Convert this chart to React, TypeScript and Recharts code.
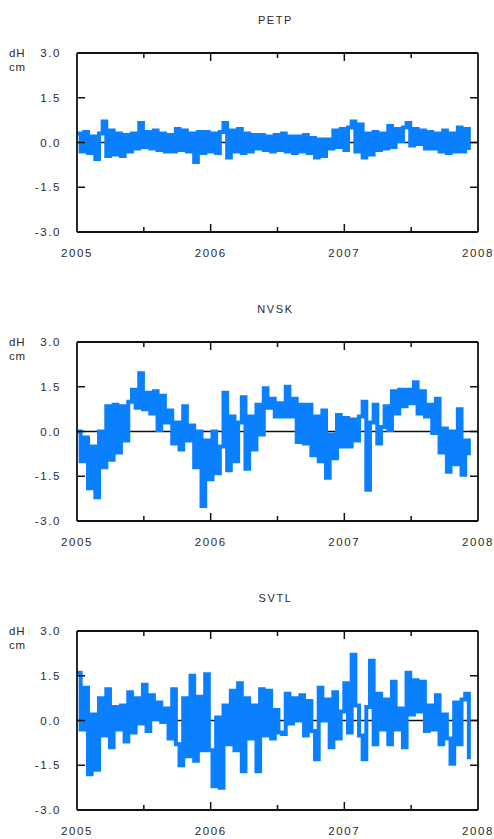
import React from 'react';
import { LineChart, Line, XAxis, YAxis, ReferenceLine } from 'recharts';

const START_YEAR = 2005;
const STEP_DAYS = 10;
const X_TICKS = [2005, 2005.5, 2006, 2006.5, 2007, 2007.5, 2008];
const Y_TICKS = [-3, -1.5, 0, 1.5, 3];
const Y_UNIT = ['dH', 'cm'];

const PETP = [
  0.3, -0.3, 0.35, -0.35, 0.2, -0.55, 0.3, 0.7, -0.45, 0.4,
  -0.4, 0.3, -0.45, 0.25, -0.3, 0.3, -0.2, 0.65, -0.15, 0.35,
  -0.2, 0.4, -0.25, 0.3, -0.3, 0.25, -0.3, 0.45, -0.25, 0.4,
  -0.3, 0.3, -0.65, 0.35, -0.35, 0.35, -0.3, 0.3, -0.35, 0.35,
  0.65, -0.5, 0.4, -0.3, 0.45, -0.35, 0.3, -0.3, 0.25, -0.2,
  0.25, -0.25, 0.2, -0.3, 0.25, -0.25, 0.3, -0.3, 0.2, -0.35,
  0.2, -0.3, 0.25, -0.35, 0.15, -0.5, 0.1, -0.45, 0.1, -0.2,
  0.4, -0.15, 0.45, -0.25, 0.5, 0.7, -0.3, 0.6, -0.5, 0.3,
  -0.4, 0.35, -0.25, 0.3, -0.2, 0.55, -0.15, 0.45, 0.05, 0.5,
  0.65, -0.1, 0.45, -0.05, 0.4, -0.2, 0.35, -0.2, 0.3, -0.3,
  0.4, -0.35, 0.3, -0.3, 0.5, -0.3, 0.45, -0.25,
];

const NVSK = [
  0.0, -1.0, -0.2, -1.9, -0.5, -2.2, 0.0, -1.2, 0.85, -0.95,
  0.9, -0.7, 0.85, -0.3, 1.0, 1.4, 0.8, 1.95, 0.75, 1.3,
  0.6, 1.35, 0.05, 1.2, 0.3, 0.7, -0.4, 0.3, -0.6, 0.85,
  -0.3, 0.2, -1.2, 0.0, -2.5, -0.3, -1.6, 0.0, -1.4, -0.5,
  1.3, -1.3, 0.5, -1.0, 0.3, 1.15, -1.25, 0.5, -0.6, 0.9,
  -0.1, 1.45, 0.8, 1.1, 0.5, 0.95, 0.5, 1.5, 0.5, 1.1,
  -0.35, 0.9, -0.4, 0.9, -0.8, 0.5, -1.0, 0.7, -1.55, -0.1,
  -0.9, 0.55, -0.5, 0.45, -0.5, 0.4, -0.3, 0.5, 1.0, -1.95,
  0.3, 0.9, -0.4, 0.15, 0.85, 0.05, 1.35, 0.6, 1.4, 0.85,
  1.4, 0.95, 1.65, 0.6, 1.35, 0.5, 0.9, -0.05, 1.1, -0.7,
  0.1, -1.35, 0.0, -1.1, 0.75, -1.45, -0.3, -0.8,
];

const SVTL = [
  1.6, -0.3, 1.1, -1.8, 0.2, -1.65, 0.75, -0.5, 1.05, -0.9,
  0.45, -0.3, 0.5, -0.7, 0.95, -0.4, 0.75, -0.1, 1.2, -0.35,
  0.85, 0.05, 0.6, -0.05, 0.4, -0.6, 1.05, -0.8, -1.5, 0.75,
  -1.2, 1.5, -1.35, 0.8, -1.0, 1.55, -1.0, -2.2, 0.1, -2.25,
  0.5, -0.8, 1.0, -1.0, 1.25, -1.7, 0.75, -0.6, 0.5, -1.7,
  1.05, -0.5, 1.0, -0.6, 0.35, -0.4, -0.45, 0.9, -0.1, 0.75,
  0.0, 0.85, -0.5, 0.65, -0.35, -1.3, 1.1, 0.0, 0.7, -0.9,
  0.95, -0.6, 0.3, 1.25, -0.4, 2.2, 0.5, -0.5, -1.3, 0.45,
  2.0, -0.8, 0.9, -0.3, 0.7, -0.8, 1.3, -0.3, 0.4, -0.9,
  1.6, 0.2, 1.35, 0.3, 1.3, -0.35, 0.5, -0.3, 0.85, -0.8,
  0.2, -0.6, -1.45, 0.6, -0.8, 0.7, 0.9, -1.3,
];

const STATIONS = [
  { name: 'PETP', values: PETP },
  { name: 'NVSK', values: NVSK },
  { name: 'SVTL', values: SVTL },
];

const FONT = '"Liberation Sans", Arial, Helvetica, sans-serif';
const TEXT = '#2a2a2a';
const AXIS = '#111';
const BLUE = '#0a80ff';

const W = 494;
const H = 280;
const PANEL_STEP = 289;
const PLOT_LEFT = 77;
const PLOT_RIGHT = 478;
const PLOT_TOP = 53;
const PLOT_BOTTOM = 232;
const LEFT_MARGIN = 16;
const BOTTOM_MARGIN = 21;

const textStyle = { fontFamily: FONT, fontSize: 11.5, letterSpacing: 1.6, fill: TEXT } as const;

const LeftTick = (props: any) => {
  const { x, y, payload } = props;
  const v = payload.value as number;
  const ax = x + LEFT_MARGIN;
  const edge = Math.abs(v) === 3;
  return (
    <g>
      {!edge && <line x1={ax} x2={ax + 8} y1={y} y2={y} stroke={AXIS} strokeWidth={1.5} />}
      <text x={x} y={y} textAnchor="end" dominantBaseline="central" style={textStyle}>
        {v.toFixed(1)}
      </text>
    </g>
  );
};

const RightTick = (props: any) => {
  const { x, y, payload } = props;
  const v = payload.value as number;
  if (Math.abs(v) === 3) return <g />;
  return <line x1={x} x2={x - 8} y1={y} y2={y} stroke={AXIS} strokeWidth={1.5} />;
};

const BottomTick = (props: any) => {
  const { x, y, payload } = props;
  const v = payload.value as number;
  const major = Number.isInteger(v);
  const ay = y - BOTTOM_MARGIN;
  const edge = v === X_TICKS[0] || v === X_TICKS[X_TICKS.length - 1];
  return (
    <g>
      {!edge && <line x1={x} x2={x} y1={ay} y2={ay - (major ? 8 : 5)} stroke={AXIS} strokeWidth={1.5} />}
      {major && (
        <text x={x} y={y} textAnchor="middle" dominantBaseline="central" style={textStyle}>
          {String(v)}
        </text>
      )}
    </g>
  );
};

const TopTick = (props: any) => {
  const { x, y, payload } = props;
  const v = payload.value as number;
  const major = Number.isInteger(v);
  const edge = v === X_TICKS[0] || v === X_TICKS[X_TICKS.length - 1];
  if (edge) return <g />;
  return <line x1={x} x2={x} y1={y} y2={y + (major ? 8 : 5)} stroke={AXIS} strokeWidth={1.5} />;
};

function Panel({ name, values, index }: { name: string; values: number[]; index: number }) {
  const data = values.map((v, i) => ({ t: START_YEAR + (i * STEP_DAYS) / 365, v }));
  const top = index * PANEL_STEP;
  return (
    <div style={{ position: 'absolute', left: 0, top, width: W, height: H }}>
      <div
        style={{
          position: 'absolute',
          left: PLOT_LEFT,
          width: PLOT_RIGHT - PLOT_LEFT - 4,
          top: 13,
          textAlign: 'center',
          fontFamily: FONT,
          fontSize: 11,
          letterSpacing: 1.6,
          lineHeight: '14px',
          color: TEXT,
        }}
      >
        {name}
      </div>
      <div style={{ position: 'absolute', left: 9, top: 46, fontFamily: FONT, fontSize: 11.5, letterSpacing: 0.8, lineHeight: '14px', color: TEXT }}>
        {Y_UNIT[0]}
      </div>
      <div style={{ position: 'absolute', left: 9, top: 60, fontFamily: FONT, fontSize: 11.5, letterSpacing: 0.8, lineHeight: '14px', color: TEXT }}>
        {Y_UNIT[1]}
      </div>
      <div style={{ position: 'absolute', left: 0, top: 0 }}>
        <LineChart
          width={W}
          height={H}
          data={data}
          margin={{ top: PLOT_TOP - 1, right: W - PLOT_RIGHT - 1, bottom: H - PLOT_BOTTOM - 30, left: 0 }}
        >
          <XAxis
            xAxisId="b"
            dataKey="t"
            type="number"
            domain={[2005, 2008]}
            ticks={X_TICKS}
            interval={0}
            orientation="bottom"
            height={30}
            tickSize={0}
            tickMargin={BOTTOM_MARGIN}
            tick={<BottomTick />}
            axisLine={{ stroke: AXIS, strokeWidth: 1.8 }}
            allowDataOverflow
          />
          <XAxis
            xAxisId="t"
            dataKey="t"
            type="number"
            domain={[2005, 2008]}
            ticks={X_TICKS}
            interval={0}
            orientation="top"
            height={1}
            tickSize={0}
            tickMargin={0}
            tick={<TopTick />}
            axisLine={{ stroke: AXIS, strokeWidth: 1.8 }}
            allowDataOverflow
          />
          <YAxis
            yAxisId="l"
            type="number"
            domain={[-3, 3]}
            ticks={Y_TICKS}
            interval={0}
            orientation="left"
            width={PLOT_LEFT}
            tickSize={0}
            tickMargin={LEFT_MARGIN}
            tick={<LeftTick />}
            axisLine={{ stroke: AXIS, strokeWidth: 1.8 }}
            allowDataOverflow
          />
          <YAxis
            yAxisId="r"
            type="number"
            domain={[-3, 3]}
            ticks={Y_TICKS}
            interval={0}
            orientation="right"
            width={1}
            tickSize={0}
            tickMargin={0}
            tick={<RightTick />}
            axisLine={{ stroke: AXIS, strokeWidth: 1.8 }}
            allowDataOverflow
          />
          <ReferenceLine xAxisId="b" yAxisId="l" y={0} stroke={AXIS} strokeWidth={1.5} />
          <Line
            xAxisId="b"
            yAxisId="l"
            dataKey="v"
            type="stepAfter"
            stroke={BLUE}
            strokeWidth={4}
            strokeLinejoin="miter"
            strokeLinecap="butt"
            dot={false}
            activeDot={false}
            isAnimationActive={false}
          />
        </LineChart>
      </div>
    </div>
  );
}

export default function App() {
  return (
    <div style={{ position: 'absolute', left: 0, top: 0, width: W, height: 839, background: '#fff' }}>
      {STATIONS.map((s, i) => (
        <Panel key={s.name} name={s.name} values={s.values} index={i} />
      ))}
    </div>
  );
}
